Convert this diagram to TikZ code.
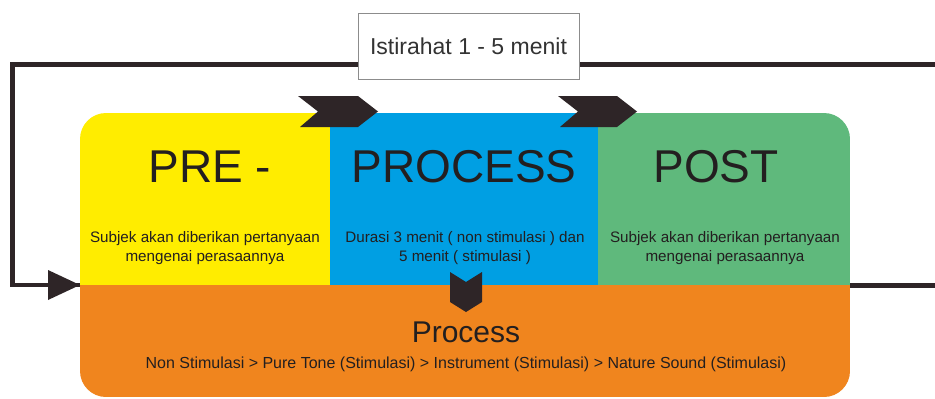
\documentclass[tikz,border=0pt]{standalone}
\usepackage{fontspec}
\setmainfont{Liberation Sans}
\usetikzlibrary{arrows.meta}
\definecolor{cyel}{HTML}{FFED00}
\definecolor{cblue}{HTML}{009FE3}
\definecolor{cgreen}{HTML}{5FB97C}
\definecolor{corange}{HTML}{F0851E}
\definecolor{cdark}{HTML}{2E2527}
\definecolor{ctext}{HTML}{231F20}
\tikzset{
  bigtitle/.style={anchor=base, font=\fontsize{46}{50}\selectfont, text=ctext, inner sep=0pt},
  smalltext/.style={anchor=base, font=\fontsize{15.2}{18.5}\selectfont, text=ctext, align=center, inner sep=0pt},
  chev/.style={fill=cdark},
  loopline/.style={draw=cdark, line width=4.5pt},
}
\begin{document}
\begin{tikzpicture}[x=1pt,y=-1pt]
\useasboundingbox (0,0) rectangle (935,399);
% main block
\begin{scope}
\clip[rounded corners=26pt] (80,113) rectangle (850,397);
\fill[cyel] (80,113) rectangle (330,285);
\fill[cblue] (330,113) rectangle (598,285);
\fill[cgreen] (598,113) rectangle (850,285);
\fill[corange] (80,285) rectangle (850,397);
\end{scope}
% feedback loop
\coordinate (rs) at (850,285.5);
\coordinate (rc) at (950,285.5);
\coordinate (tr) at (950,64.5);
\coordinate (tl) at (12.5,64.5);
\coordinate (bl) at (12.5,285);
\coordinate (le) at (80,285);
\begin{scope}
\clip (0,0) rectangle (935,399);
\draw[loopline] (rs) -- (rc) -- (tr) -- (tl) -- (bl) -- (le);
\end{scope}
\fill[cdark] (80,285) -- (48,270) -- (48,300) -- cycle;
% rest box
\node[draw=black!45, fill=white, line width=0.8pt, minimum width=221pt, minimum height=66pt, inner sep=0pt,
      font=\fontsize{23}{26}\selectfont, text=black!80] (rest) at (468.5,46) {Istirahat 1 - 5 menit};
% chevrons
\fill[chev] (298,96) -- (358,96) -- (378,111.5) -- (358,127) -- (300,127) -- (318,111.5) -- cycle;
\fill[chev] (558,96) -- (617,96) -- (637,111.5) -- (617,127) -- (560,127) -- (578,111.5) -- cycle;
\fill[chev] (450,272) -- (466,282) -- (482,272) -- (482,302) -- (466,312) -- (450,302) -- cycle;
% titles
\node[bigtitle] (pre) at (210,182) {PRE -};
\node[bigtitle] (proc) at (464,182) {PROCESS};
\node[bigtitle] (post) at (716,182) {POST};
\node[smalltext] (pretxt) at (205,261) {Subjek akan diberikan pertanyaan\\mengenai perasaannya};
\node[smalltext] (proctxt) at (465,261) {Durasi 3 menit ( non stimulasi ) dan\\5 menit ( stimulasi )};
\node[smalltext] (posttxt) at (725,261) {Subjek akan diberikan pertanyaan\\mengenai perasaannya};
\node[anchor=base, font=\fontsize{30}{34}\selectfont, text=ctext, inner sep=0pt] (bproc) at (466,342) {Process};
\node[anchor=base, font=\fontsize{16}{19}\selectfont, text=ctext, inner sep=0pt] (seq) at (466,368)
  {Non Stimulasi > Pure Tone (Stimulasi) > Instrument (Stimulasi) > Nature Sound (Stimulasi)};
\end{tikzpicture}
\end{document}
